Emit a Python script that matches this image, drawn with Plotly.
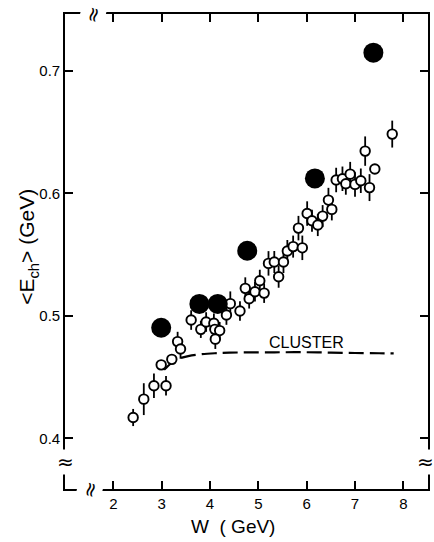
import plotly.graph_objects as go

# Open circles: W (GeV), <E_ch> (GeV), error
w_open = [2.41, 2.63, 2.84, 3.09, 2.99, 3.21, 3.33, 3.39, 3.61, 3.81, 3.92, 4.08, 4.10, 4.20, 4.11,
          4.34, 4.42, 4.62, 4.73, 4.81, 4.93, 5.03, 5.12, 5.21, 5.33, 5.42, 5.52, 5.60, 5.72, 5.91,
          5.83, 6.01, 6.11, 6.23, 6.33, 6.45, 6.52, 6.61, 6.74, 6.81, 6.90, 7.00, 7.12, 7.30, 7.21,
          7.41, 7.77]
e_open = [0.417, 0.432, 0.443, 0.443, 0.460, 0.4645, 0.479, 0.473, 0.4966, 0.489, 0.495, 0.494, 0.489, 0.488, 0.481,
          0.5007, 0.510, 0.504, 0.5225, 0.514, 0.5197, 0.5287, 0.5186, 0.5429, 0.544, 0.532, 0.544, 0.553, 0.5566, 0.5556,
          0.5717, 0.5836, 0.5777, 0.5742, 0.5815, 0.5946, 0.587, 0.611, 0.612, 0.608, 0.6158, 0.6074, 0.6104, 0.6048, 0.6346,
          0.620, 0.6485]
err_open = [0.007, 0.013, 0.010, 0.008, 0.0, 0.0, 0.008, 0.008, 0.008, 0.007, 0.008, 0.008, 0.007, 0.007, 0.008,
            0.008, 0.010, 0.008, 0.009, 0.008, 0.008, 0.009, 0.008, 0.010, 0.009, 0.009, 0.009, 0.009, 0.009, 0.010,
            0.010, 0.010, 0.009, 0.009, 0.009, 0.010, 0.009, 0.010, 0.010, 0.009, 0.010, 0.010, 0.010, 0.011, 0.012,
            0.000, 0.011]

# Filled dots
w_full = [2.99, 3.78, 4.16, 4.77, 6.17, 7.38]
e_full = [0.4903, 0.5098, 0.5098, 0.5532, 0.6123, 0.715]

# CLUSTER model curve
w_cluster = [3.05, 3.20, 3.35, 3.55, 3.80, 4.10, 4.40, 5.00, 5.50, 6.00, 6.50, 7.00, 7.50, 7.80]
e_cluster = [0.456, 0.4615, 0.4650, 0.4672, 0.4686, 0.4695, 0.470, 0.4702, 0.4703, 0.4703, 0.4700, 0.4697, 0.4695, 0.4694]

x_ticks = [2, 3, 4, 5, 6, 7, 8]
y_ticks = [0.4, 0.5, 0.6, 0.7]
y_ticktext = ["0.4", "0.5", "0.6", "0.7"]

FONT = "Liberation Sans"

fig = go.Figure()

fig.add_trace(go.Scatter(
    x=w_cluster, y=e_cluster, mode="lines",
    line=dict(color="black", width=2.2, dash="15px,6px", shape="spline"),
    hoverinfo="skip", showlegend=False))

fig.add_trace(go.Scatter(
    x=w_open, y=e_open, mode="markers",
    error_y=dict(type="data", array=err_open, visible=True, color="black", thickness=1.8, width=0),
    marker=dict(symbol="circle", size=9.5, color="white", line=dict(color="black", width=1.9)),
    showlegend=False))

fig.add_trace(go.Scatter(
    x=w_full, y=e_full, mode="markers",
    marker=dict(symbol="circle", size=20, color="black", line=dict(width=0)),
    showlegend=False))

axis_common = dict(
    showline=True, linecolor="black", linewidth=1.6, mirror="ticks",
    ticks="inside", ticklen=8, tickwidth=1.6, tickcolor="black",
    showgrid=False, zeroline=False,
    tickfont=dict(family=FONT, size=15, color="black"),
)

fig.update_xaxes(range=[1.0, 8.51], tickvals=x_ticks, **axis_common)
fig.update_yaxes(range=[0.3586, 0.7466], tickvals=y_ticks, ticktext=y_ticktext, **axis_common)

brk_font = dict(family="DejaVu Sans", size=20, color="black")
annotations = [
    dict(text="CLUSTER", x=5.99, y=0.4786, xref="x", yref="y", showarrow=False,
         font=dict(family=FONT, size=16, color="black"), xanchor="center", yanchor="middle"),
    dict(text="W  ( GeV)", x=0.4616, y=0, xref="paper", yref="paper", yshift=-37,
         showarrow=False, font=dict(family=FONT, size=19, color="black"),
         xanchor="center", yanchor="middle"),
    dict(text="&lt;E<sub>ch</sub>&gt; (GeV)", x=0, y=0.51, xref="paper", yref="paper",
         xshift=-37, textangle=-90, showarrow=False,
         font=dict(family=FONT, size=21, color="black"), xanchor="center", yanchor="middle"),
    # axis break marks
    dict(text="≈", x=0, y=0.3806, xref="paper", yref="y", showarrow=False,
         font=brk_font, bgcolor="white", borderpad=0, xanchor="center", yanchor="middle"),
    dict(text="≈", x=1, y=0.3806, xref="paper", yref="y", showarrow=False, xshift=-3,
         font=brk_font, bgcolor="white", borderpad=0, xanchor="center", yanchor="middle"),
    dict(text="≈", x=1.516, y=0, xref="x", yref="paper", showarrow=False, textangle=-75,
         font=brk_font, bgcolor="white", borderpad=0, xanchor="center", yanchor="middle"),
    dict(text="≈", x=1.578, y=1, xref="x", yref="paper", showarrow=False, textangle=-75,
         font=brk_font, bgcolor="white", borderpad=0, xanchor="center", yanchor="middle"),
]

fig.update_layout(
    width=434, height=542,
    margin=dict(l=65, r=4, t=14, b=53),
    paper_bgcolor="white", plot_bgcolor="white",
    annotations=annotations,
    showlegend=False,
)

fig.write_html("out.html")
